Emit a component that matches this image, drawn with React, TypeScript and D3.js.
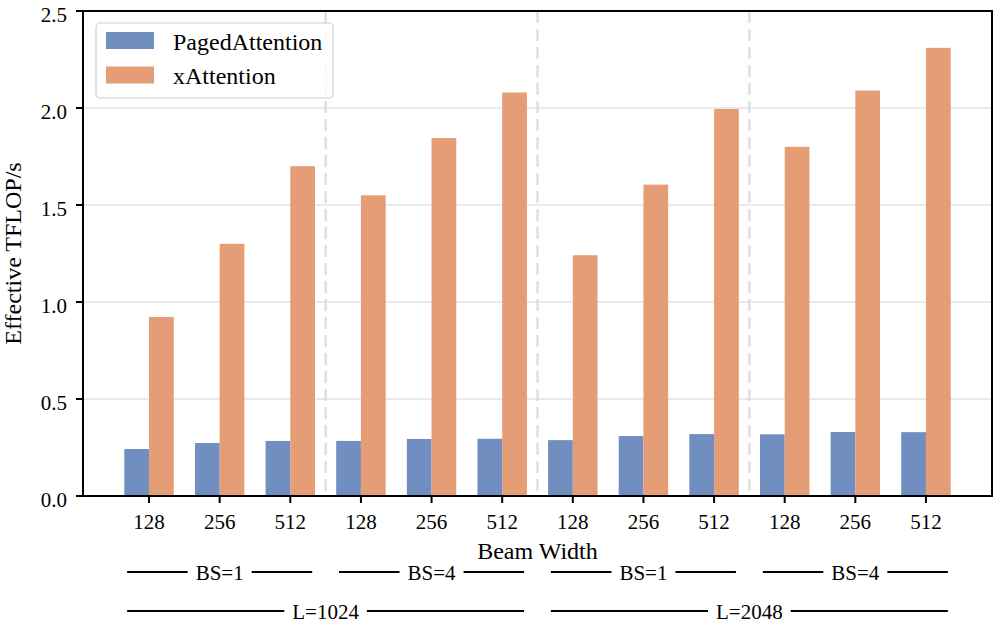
import { useEffect, useRef } from "react";
import * as d3 from "d3";

const categories = ["128", "256", "512", "128", "256", "512", "128", "256", "512", "128", "256", "512"];
const pagedAttention = [0.242, 0.273, 0.284, 0.284, 0.294, 0.295, 0.288, 0.309, 0.319, 0.318, 0.33, 0.329];
const xAttention = [0.923, 1.3, 1.7, 1.55, 1.845, 2.08, 1.241, 1.605, 1.995, 1.8, 2.09, 2.31];
const yTicks = [0, 0.5, 1.0, 1.5, 2.0, 2.5];
const separators = [2.5, 5.5, 8.5];
const bsGroups = [
    { label: "BS=1", start: 0, end: 2 },
    { label: "BS=4", start: 3, end: 5 },
    { label: "BS=1", start: 6, end: 8 },
    { label: "BS=4", start: 9, end: 11 },
];
const lenGroups = [
    { label: "L=1024", start: 0, end: 5 },
    { label: "L=2048", start: 6, end: 11 },
];
const series = [
    { name: "PagedAttention", values: pagedAttention, color: "#708ec0", offset: -1 },
    { name: "xAttention", values: xAttention, color: "#e49d75", offset: 0 },
];

const WIDTH = 997;
const HEIGHT = 623;
const FONT = "'Liberation Serif', 'Times New Roman', serif";

export default function App() {
    const svgRef = useRef<SVGSVGElement | null>(null);

    useEffect(() => {
        document.body.style.margin = "0";
        const svg = d3.select(svgRef.current!);
        svg.selectAll("*").remove();

        const left = 83, right = 992, top = 11, bottom = 496;
        const barW = 0.35;

        const x = d3.scaleLinear().domain([-0.935, 11.935]).range([left, right]);
        const y = d3.scaleLinear().domain([0, 2.5]).range([bottom, top]);

        // grid
        svg.append("g")
            .selectAll("line")
            .data(yTicks.slice(1, -1))
            .join("line")
            .attr("x1", left).attr("x2", right)
            .attr("y1", (d) => y(d)).attr("y2", (d) => y(d))
            .attr("stroke", "#e3e3e3")
            .attr("stroke-width", 1.5);

        // group separators
        svg.append("g")
            .selectAll("line")
            .data(separators)
            .join("line")
            .attr("x1", (d) => x(d)).attr("x2", (d) => x(d))
            .attr("y1", top).attr("y2", bottom)
            .attr("stroke", "#dcdcdc")
            .attr("stroke-width", 2.2)
            .attr("stroke-dasharray", "12 6");

        // bars
        series.forEach((s) => {
            svg.append("g")
                .selectAll("rect")
                .data(s.values)
                .join("rect")
                .attr("x", (_d, i) => x(i + s.offset * barW))
                .attr("width", x(barW) - x(0))
                .attr("y", (d) => y(d))
                .attr("height", (d) => y(0) - y(d))
                .attr("fill", s.color);
        });

        // frame
        svg.append("rect")
            .attr("x", left).attr("y", top)
            .attr("width", right - left).attr("height", bottom - top)
            .attr("fill", "none")
            .attr("stroke", "#000")
            .attr("stroke-width", 2);

        // y axis
        const yAxis = svg.append("g").attr("font-family", FONT).attr("font-size", 21);
        yAxis.selectAll("line")
            .data(yTicks)
            .join("line")
            .attr("x1", left - 7).attr("x2", left)
            .attr("y1", (d) => y(d)).attr("y2", (d) => y(d))
            .attr("stroke", "#000").attr("stroke-width", 2);
        yAxis.selectAll("text")
            .data(yTicks)
            .join("text")
            .attr("x", left - 16)
            .attr("y", (d) => y(d))
            .attr("dy", "0.5em")
            .attr("text-anchor", "end")
            .text((d) => d3.format(".1f")(d));

        // x axis
        const xAxis = svg.append("g").attr("font-family", FONT).attr("font-size", 21);
        xAxis.selectAll("line")
            .data(categories)
            .join("line")
            .attr("x1", (_d, i) => x(i)).attr("x2", (_d, i) => x(i))
            .attr("y1", bottom).attr("y2", bottom + 7)
            .attr("stroke", "#000").attr("stroke-width", 2);
        xAxis.selectAll("text")
            .data(categories)
            .join("text")
            .attr("x", (_d, i) => x(i))
            .attr("y", bottom + 33)
            .attr("text-anchor", "middle")
            .text((d) => d);

        // axis titles
        svg.append("text")
            .attr("font-family", FONT).attr("font-size", 24)
            .attr("text-anchor", "middle")
            .attr("x", (left + right) / 2)
            .attr("y", 559)
            .text("Beam Width");
        svg.append("text")
            .attr("font-family", FONT).attr("font-size", 24)
            .attr("text-anchor", "middle")
            .attr("transform", `translate(21,${(top + bottom) / 2}) rotate(-90)`)
            .text("Effective TFLOP/s");

        // group brackets under the axis
        const drawGroups = (groups: { label: string; start: number; end: number }[], yy: number) => {
            groups.forEach((g) => {
                const x0 = x(g.start - 0.31);
                const x1 = x(g.end + 0.31);
                const cx = (x0 + x1) / 2;
                const t = svg.append("text")
                    .attr("font-family", FONT).attr("font-size", 21)
                    .attr("text-anchor", "middle")
                    .attr("x", cx).attr("y", yy + 8)
                    .text(g.label);
                const w = (t.node() as SVGTextElement).getComputedTextLength();
                const gap = 8;
                [[x0, cx - w / 2 - gap], [cx + w / 2 + gap, x1]].forEach(([a, b]) => {
                    svg.append("line")
                        .attr("x1", a).attr("x2", b)
                        .attr("y1", yy).attr("y2", yy)
                        .attr("stroke", "#000").attr("stroke-width", 2);
                });
            });
        };
        drawGroups(bsGroups, 572);
        drawGroups(lenGroups, 611);

        // legend
        const legend = svg.append("g").attr("font-family", FONT).attr("font-size", 24);
        legend.append("rect")
            .attr("x", 96).attr("y", 23)
            .attr("width", 237).attr("height", 75)
            .attr("rx", 4)
            .attr("fill", "rgba(255,255,255,0.8)")
            .attr("stroke", "#d0d0d0")
            .attr("stroke-width", 1.2);
        series.forEach((s, i) => {
            legend.append("rect")
                .attr("x", 106).attr("y", 32 + i * 34.5)
                .attr("width", 48).attr("height", 17)
                .attr("fill", s.color);
            legend.append("text")
                .attr("x", 173).attr("y", 50 + i * 34)
                .text(s.name);
        });
    }, []);

    return <svg ref={svgRef} width={WIDTH} height={HEIGHT} style={{ display: "block", background: "#fff" }} />;
}
